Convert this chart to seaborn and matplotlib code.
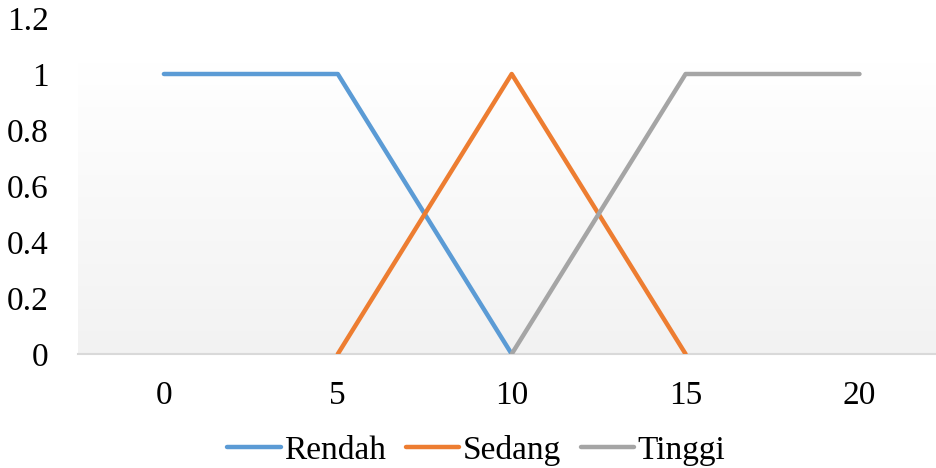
import numpy as np
import pandas as pd
import matplotlib
matplotlib.use('Agg')
import matplotlib.pyplot as plt
import seaborn as sns

# membership function data
rendah_x = [0, 5, 10]
rendah_y = [1, 1, 0]
sedang_x = [5, 10, 15]
sedang_y = [0, 1, 0]
tinggi_x = [10, 15, 20]
tinggi_y = [0, 1, 1]

x_ticks = [0, 5, 10, 15, 20]
y_ticks = [0, 0.2, 0.4, 0.6, 0.8, 1, 1.2]
y_tick_labels = ['0', '0.2', '0.4', '0.6', '0.8', '1', '1.2']

df = pd.concat([
    pd.DataFrame({'x': rendah_x, 'y': rendah_y, 'Kategori': 'Rendah'}),
    pd.DataFrame({'x': sedang_x, 'y': sedang_y, 'Kategori': 'Sedang'}),
    pd.DataFrame({'x': tinggi_x, 'y': tinggi_y, 'Kategori': 'Tinggi'}),
], ignore_index=True)

sns.set_style('white')
plt.rcParams['font.family'] = ['Liberation Serif', 'DejaVu Serif']

fig = plt.figure(figsize=(9.36, 4.68), dpi=100)
ax = fig.add_axes([78 / 936, 1 - 354 / 468, 1 - 78 / 936, (354 - 18) / 468])

xmin, xmax = -2.47, 22.2
ax.set_xlim(xmin, xmax)
ax.set_ylim(0, 1.2)

# plot area gradient (white -> light gray)
grad = np.linspace(0, 1, 256).reshape(-1, 1)
cmap = matplotlib.colors.LinearSegmentedColormap.from_list('g', ['#ffffff', '#f2f2f2'])
ax.imshow(grad, extent=(xmin, xmax, 0, 1.04), aspect='auto', cmap=cmap,
          origin='upper', zorder=0, vmin=0, vmax=1)

palette = {'Rendah': '#5B9BD5', 'Sedang': '#ED7D31', 'Tinggi': '#A5A5A5'}
sns.lineplot(data=df, x='x', y='y', hue='Kategori', palette=palette,
             linewidth=3.2, ax=ax, sort=False, estimator=None,
             solid_capstyle='round', zorder=3)

for s in ['top', 'right', 'left']:
    ax.spines[s].set_visible(False)
ax.spines['bottom'].set_color('#d9d9d9')
ax.spines['bottom'].set_linewidth(1.5)

ax.set_xticks(x_ticks)
ax.set_xticklabels([str(v) for v in x_ticks])
ax.set_yticks(y_ticks)
ax.set_yticklabels(y_tick_labels)
ax.tick_params(axis='both', length=0, labelsize=24, colors='black')
ax.tick_params(axis='y', pad=21)
ax.tick_params(axis='x', pad=19)
ax.set_xlabel('')
ax.set_ylabel('')
ax.grid(False)

handles, labels = ax.get_legend_handles_labels()
ax.legend(handles, labels, loc='center', bbox_to_anchor=(0.464, -0.286),
          ncol=3, frameon=False, fontsize=24, handlelength=1.6,
          handletextpad=0.1, columnspacing=0.6, labelcolor='black')

fig.savefig('out.png', dpi=100)
